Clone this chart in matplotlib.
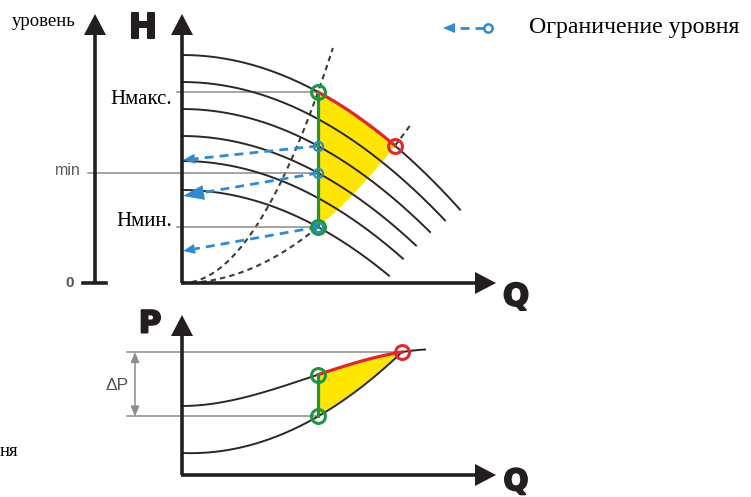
import matplotlib
matplotlib.use('Agg')
import matplotlib.pyplot as plt
import matplotlib.patheffects as pe
import numpy as np

# upper chart, one pump curve per speed: H = H0 - K_PUMP * Q**2
SHUTOFF_H = [228, 201, 174, 147, 122, 93]
CURVE_END_Q = [278, 263, 248, 234, 221, 207]
K_PUMP = 0.002
Q_LIMIT = 136              # green limiting line
BLUE_CURVES = [2, 3]       # curves marked blue on the limiting line
ARROW_TIP_H = [123, 87, 32]
ARROW_HEAD = [(10, 12), (15, 21), (10, 12)]   # (width, length)
STEEP_END_H = 235
FLAT_END_Q = 229

# lower chart, power curves: P = a + b*Q + c*Q**2 + d*Q**3
P_UPPER = [69, 0.0, 0.00263, -6.886e-6]
P_LOWER = [22, -0.039, 0.002264, 0.0]
P_UPPER_END_Q = 243

INK = '#231f20'
CURVE = '#2d2626'
GRID = '#8c8c8c'
YELLOW = '#ffe600'
RED = '#e3262d'
GREEN = '#1d9640'
BLUE = '#2e8bd3'
SERIF = 'Liberation Serif'

fig = plt.figure(figsize=(7.51, 4.97), dpi=100)
ax_h = fig.add_axes([0, 197 / 497, 1, 300 / 497])
ax_h.set_xlim(-182, 569)
ax_h.set_ylim(-17, 283)
ax_p = fig.add_axes([0, 0, 1, 197 / 497])
ax_p.set_xlim(-182, 569)
ax_p.set_ylim(-22, 175)
for ax in (ax_h, ax_p):
    ax.axis('off')


def axis_arrow(ax, x0, y0, x1, y1):
    dx, dy = x1 - x0, y1 - y0
    n = np.hypot(dx, dy)
    bx, by = x1 - dx / n * 20, y1 - dy / n * 20
    ax.plot([x0, bx], [y0, by], color=INK, lw=2.6, solid_capstyle='butt', zorder=5)
    ax.arrow(bx, by, x1 - bx, y1 - by, width=0.01, head_width=22, head_length=21,
             length_includes_head=True, color=INK, lw=0, zorder=5)


def blue_arrow(ax, x0, y0, x1, y1, hw, hl):
    dx, dy = x1 - x0, y1 - y0
    n = np.hypot(dx, dy)
    bx, by = x1 - dx / n * hl, y1 - dy / n * hl
    ax.plot([x0, bx], [y0, by], color=BLUE, lw=2, dashes=(3.2, 2.2), zorder=6)
    ax.arrow(bx, by, x1 - bx, y1 - by, width=0.01, head_width=hw, head_length=hl,
             length_includes_head=True, color=BLUE, lw=0, zorder=6)


def head(h0, q):
    return h0 - K_PUMP * np.asarray(q) ** 2


def power(coef, q):
    q = np.asarray(q, dtype=float)
    return coef[0] + coef[1] * q + coef[2] * q ** 2 + coef[3] * q ** 3


# ---- upper chart -------------------------------------------------------
h_max = head(SHUTOFF_H[0], Q_LIMIT)
h_min = head(SHUTOFF_H[-1], Q_LIMIT)
c_steep = h_max / Q_LIMIT ** 2
c_flat = h_min / Q_LIMIT ** 2
q_red = np.sqrt(SHUTOFF_H[0] / (K_PUMP + c_flat))
h_red = c_flat * q_red ** 2

qa = np.linspace(Q_LIMIT, q_red, 60)
ax_h.fill(np.r_[qa, qa[::-1]], np.r_[head(SHUTOFF_H[0], qa), c_flat * qa[::-1] ** 2],
          color=YELLOW, lw=0, zorder=1)

for h0, qe in zip(SHUTOFF_H, CURVE_END_Q):
    q = np.linspace(0, qe, 200)
    ax_h.plot(q, head(h0, q), color=CURVE, lw=1.4, zorder=3)

q = np.linspace(0, np.sqrt(STEEP_END_H / c_steep), 100)
ax_h.plot(q, c_steep * q ** 2, color='#3b3b3b', lw=1.5, dashes=(2.6, 2), zorder=2)
q = np.linspace(0, Q_LIMIT, 100)
ax_h.plot(q, c_flat * q ** 2, color='#3b3b3b', lw=1.5, dashes=(2.6, 2), zorder=2)
q = np.linspace(q_red, FLAT_END_Q, 20)
ax_h.plot(q, c_flat * q ** 2, color='#3b3b3b', lw=1.5, dashes=(2.6, 2), zorder=2)

blue_h = [head(SHUTOFF_H[i], Q_LIMIT) for i in BLUE_CURVES]
ax_h.plot([-5, Q_LIMIT], [h_max, h_max], color=GRID, lw=1.1, zorder=2)
ax_h.plot([-5, Q_LIMIT], [h_min, h_min], color=GRID, lw=1.1, zorder=2)
ax_h.plot([-94, Q_LIMIT], [blue_h[1], blue_h[1]], color=GRID, lw=1.1, zorder=2)

ax_h.plot(qa, head(SHUTOFF_H[0], qa), color=RED, lw=2.3, zorder=4)
ax_h.plot([Q_LIMIT, Q_LIMIT], [h_min, h_max], color=GREEN, lw=2.3, zorder=4)

starts = [blue_h[0], blue_h[1], h_min]
for h0, tip, (hw, hl) in zip(starts, ARROW_TIP_H, ARROW_HEAD):
    blue_arrow(ax_h, Q_LIMIT, h0, 1, tip, hw, hl)

ax_h.plot([Q_LIMIT] * 3, [blue_h[0], blue_h[1], h_min], 'o', ms=6.5, mfc='none',
          mec=BLUE, mew=1.6, zorder=7)
ax_h.plot([Q_LIMIT, Q_LIMIT], [h_max, h_min], 'o', ms=10, mfc='none', mec=GREEN,
          mew=2.2, zorder=8)
ax_h.plot([q_red], [h_red], 'o', ms=10, mfc='none', mec=RED, mew=2.2, zorder=8)

axis_arrow(ax_h, 0, 0, 0, 269)
axis_arrow(ax_h, -1.3, 0, 314, 0)
axis_arrow(ax_h, -87, 0, -87, 269)
ax_h.plot([-99, -76], [0, 0], color=INK, lw=2.6, zorder=5)

ax_h.text(-10, h_max - 8, 'Нмакс.', family=SERIF, fontsize=15, ha='right', va='center')
ax_h.text(-10, h_min + 5, 'Нмин.', family=SERIF, fontsize=15, ha='right', va='center')
ax_h.text(-170, 262, 'уровень', family=SERIF, fontsize=13.5, ha='left', va='center')
ax_h.text(-114, blue_h[1] + 2, 'min', fontsize=11.5, color='#5a5a5a', ha='center',
          va='center', family='Liberation Sans')
ax_h.text(-112, 0, '0', fontsize=11, color='#555555', ha='center', va='center',
          family='Liberation Sans', weight='bold')
bold = dict(family='DejaVu Sans', weight='bold', color=INK, ha='center', va='center',
            path_effects=[pe.withStroke(linewidth=1.5, foreground=INK)])
ax_h.text(-39, 255, 'H', fontsize=25, **bold)
ax_h.text(334, -14, 'Q', fontsize=22, **bold)

# legend
blue_arrow(ax_h, 302, 255, 261, 255, 10, 12)
ax_h.plot([306], [255], 'o', ms=6, mfc='white', mec=BLUE, mew=1.8, zorder=7)
ax_h.text(347, 256, 'Ограничение уровня', family=SERIF, fontsize=17.2, ha='left',
          va='center')

# ---- lower chart -------------------------------------------------------
p_hi = power(P_UPPER, Q_LIMIT)
p_lo = power(P_LOWER, Q_LIMIT)
diff = np.subtract(P_LOWER, P_UPPER)
roots = np.roots(diff[::-1])
roots = roots[np.isreal(roots)].real
q_r = roots[(roots > Q_LIMIT) & (roots < P_UPPER_END_Q + 50)].min()
p_r = power(P_UPPER, q_r)

qb = np.linspace(Q_LIMIT, q_r, 60)
ax_p.fill(np.r_[qb, qb[::-1]], np.r_[power(P_UPPER, qb), power(P_LOWER, qb[::-1])],
          color=YELLOW, lw=0, zorder=1)
q = np.linspace(0, P_UPPER_END_Q, 200)
ax_p.plot(q, power(P_UPPER, q), color=CURVE, lw=1.4, zorder=3)
q = np.linspace(0, q_r, 200)
ax_p.plot(q, power(P_LOWER, q), color=CURVE, lw=1.4, zorder=3)
ax_p.plot(qb, power(P_UPPER, qb), color=RED, lw=2.3, zorder=4)
ax_p.plot([Q_LIMIT, Q_LIMIT], [p_lo, p_hi], color=GREEN, lw=2.3, zorder=4)

ax_p.plot([-55, q_r], [p_r, p_r], color=GRID, lw=1.1, zorder=2)
ax_p.plot([-55, Q_LIMIT], [p_lo, p_lo], color=GRID, lw=1.1, zorder=2)
ax_p.annotate('', xy=(-47, p_r), xytext=(-47, p_lo),
              arrowprops=dict(arrowstyle='<|-|>,head_length=0.6,head_width=0.25',
                              color=GRID, lw=1.1, mutation_scale=10,
                              shrinkA=0, shrinkB=0))

ax_p.plot([Q_LIMIT, Q_LIMIT], [p_hi, p_lo], 'o', ms=10, mfc='none', mec=GREEN,
          mew=2.2, zorder=8)
ax_p.plot([q_r], [p_r], 'o', ms=10, mfc='none', mec=RED, mew=2.2, zorder=8)

axis_arrow(ax_p, 0, 0, 0, 160)
axis_arrow(ax_p, -1.3, 0, 314, 0)

ax_p.text(-65, 90, 'ΔP', fontsize=12.5, color='#555555', ha='center', va='center',
          family='Liberation Sans')
ax_p.text(-32, 151, 'P', fontsize=22, **bold)
ax_p.text(334, -7, 'Q', fontsize=21, **bold)
ax_p.text(-182, 23, 'ня', family=SERIF, fontsize=13.5, ha='left', va='center')

fig.savefig('out.png', dpi=100)
